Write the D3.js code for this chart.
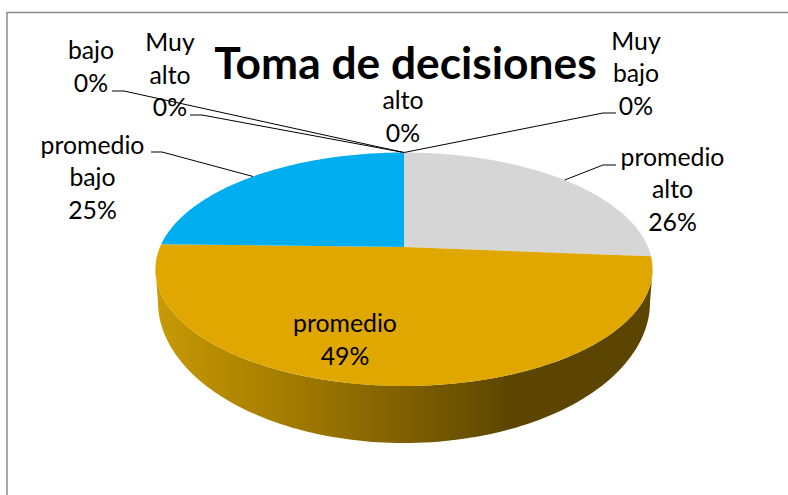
<!DOCTYPE html>
<html><head><meta charset="utf-8">
<style>html,body{margin:0;padding:0;background:#fff}svg{display:block}text{font-family:Lato,"Open Sans",sans-serif;fill:#000}</style>
<script src="https://cdn.jsdelivr.net/npm/d3@7"></script></head><body>
<script>
const title = "Toma de decisiones";
const categories = ["Muy bajo","promedio alto","promedio","promedio bajo","bajo","Muy alto","alto"];
const values = [0,26.3,49.1,24.6,0,0,0];
const colors = ["#5b9bd5","#d6d6d6","#dfa700","#00aeef","#264478","#636363","#997300"];
const labelLines = [["Muy","bajo","0%"],["promedio","alto","26%"],["promedio","49%"],["promedio","bajo","25%"],["bajo","0%"],["Muy","alto","0%"],["alto","0%"]];
const labelAnchors = [[636,49.5],[672.5,165.5],[345,332],[92.5,153.5],[91,59],[170,51],[403,109]];
const leaders = [[[603,113],[616,113]],[[603,165],[616,165]],null,[[162,152],[151,152]],[[124,91],[112,91]],[[202,115],[190,115]],null];
const leaderAngles = [0,0.133,null,0.876,1,1,null];
const W=788,H=495;
const svg=d3.select("body").append("svg").attr("width",W).attr("height",H);
svg.append("path").attr("d","M7,495V12.5H788").attr("fill","none").attr("stroke","#8c8c8c").attr("stroke-width",1.5);

const cx=404,cy=247,R=244,B=112.5,k=0.1906;
const floorY=275.1,floorR=241.5,floorB=135.9;
const sx=d3.scaleLinear().domain([-1,1]).range([cx-R,cx+R]);
const sy=d3.scaleLinear().domain([-1,1]).range([cy-B,cy+B]);
const fx=d3.scaleLinear().domain([-1,1]).range([cx-floorR,cx+floorR]);
const fy=d3.scaleLinear().domain([-1,1]).range([floorY-floorB,floorY+floorB]);
function proj(a,floor=false){
  const u=Math.sin(a),v=-Math.cos(a),w=1-k*v;
  return floor?[fx(u/w),fy(v/w)]:[sx(u/w),sy(v/w)];
}
const pie=d3.pie().sort(null).value(d=>d)(values);
const line=d3.line();
const arcPts=(a0,a1,floor=false)=>d3.range(0,121).map(i=>proj(a0+(a1-a0)*i/120,floor));

const defs=svg.append("defs");
const g=defs.append("linearGradient").attr("id","side").attr("gradientUnits","userSpaceOnUse")
  .attr("x1",155).attr("x2",652).attr("y1",0).attr("y2",0);
[[0,"#c79a06"],[0.2,"#ad8300"],[0.5,"#7f6000"],[0.72,"#5b4500"],[1,"#5b4500"]]
  .forEach(s=>g.append("stop").attr("offset",s[0]).attr("stop-color",s[1]));

// the wall runs between the two points where the rim turns back
const rimStart=Math.acos(-k), rimEnd=2*Math.PI-rimStart;
svg.append("path").attr("fill","url(#side)")
  .attr("d",line([...arcPts(rimStart,rimEnd),...arcPts(rimStart,rimEnd,true).reverse()])+"Z");
svg.selectAll("path.slice").data(pie.filter(d=>d.value>0)).join("path").attr("class","slice")
  .attr("fill",d=>colors[d.index])
  .attr("d",d=>line([[cx,cy],...arcPts(d.startAngle,d.endAngle)])+"Z");

leaders.forEach((l,i)=>{
  if(!l)return;
  const p=proj(Math.PI*2*leaderAngles[i]);
  svg.append("path").attr("fill","none").attr("stroke","#000").attr("stroke-width",1)
    .attr("d",line([p,l[0],l[1]]));
});
const fs=24.8,lh=32.7;
labelLines.forEach((lines,i)=>{
  const t=svg.append("text").attr("text-anchor","middle").attr("font-size",fs);
  lines.forEach((s,j)=>t.append("tspan").attr("x",labelAnchors[i][0]).attr("y",labelAnchors[i][1]+j*lh).text(s));
});
svg.append("text").attr("x",405.5).attr("y",79).attr("text-anchor","middle").attr("font-size",44.3).attr("font-weight",700).text(title);
</script></body></html>
